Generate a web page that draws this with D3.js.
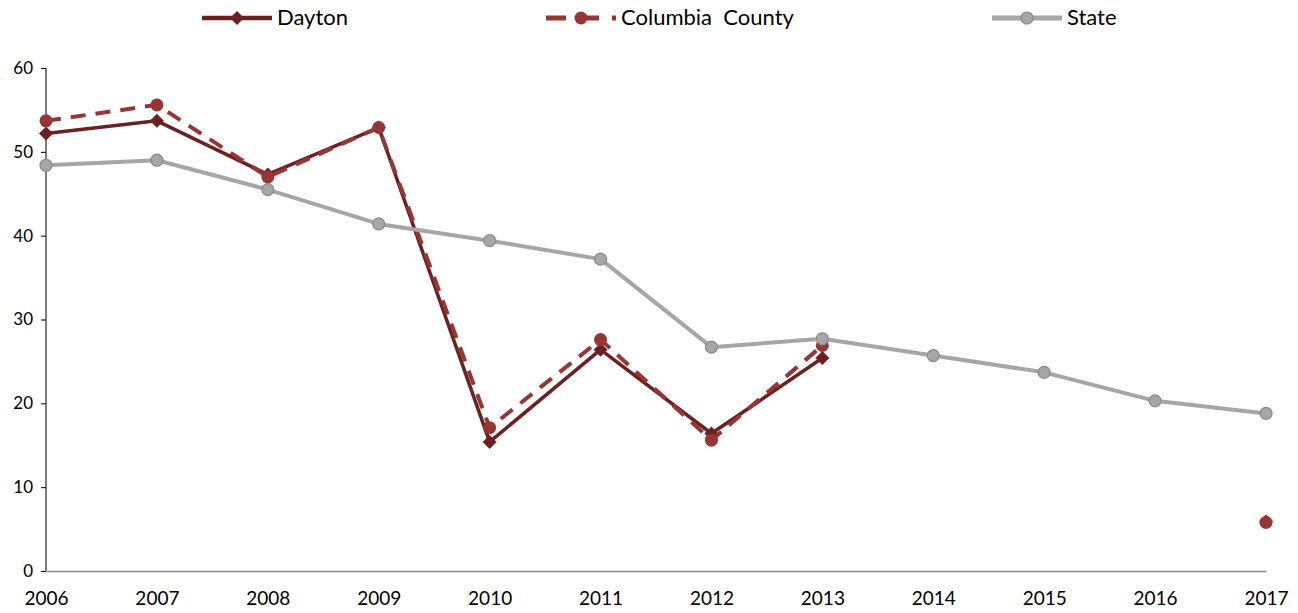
<!DOCTYPE html>
<html>
<head>
<meta charset="utf-8">
<script src="https://cdn.jsdelivr.net/npm/d3@7"></script>
<style>
  html, body { margin: 0; padding: 0; background: #fff; }
  svg { display: block; font-family: "Lato", "Open Sans", sans-serif; }
</style>
</head>
<body>
<svg id="chart" width="1298" height="613"></svg>
<script>
// Years on the x axis
const years = [2006, 2007, 2008, 2009, 2010, 2011, 2012, 2013, 2014, 2015, 2016, 2017];
// Series values (null = no data for that year)
const dayton   = [52.2, 53.7, 47.3, 52.9, 15.4, 26.4, 16.4, 25.4, null, null, null, 5.9];
const columbia = [53.7, 55.6, 47.0, 52.9, 17.1, 27.6, 15.6, 26.9, null, null, null, 5.8];
const state    = [48.4, 49.0, 45.5, 41.4, 39.4, 37.2, 26.7, 27.7, 25.7, 23.7, 20.3, 18.8];
const yTicks = [0, 10, 20, 30, 40, 50, 60];

const series = [
  { name: "Dayton", values: dayton, color: "#6B2121", width: 3.5, dash: null, marker: "diamond" },
  { name: "Columbia  County", values: columbia, color: "#963634", width: 4, dash: "15,10", marker: "circle" },
  { name: "State", values: state, color: "#A6A6A6", width: 4, dash: null, marker: "circleGray" }
];

const svg = d3.select("#chart");
const x = d3.scaleLinear().domain([2006, 2017]).range([46, 1266]);
const y = d3.scaleLinear().domain([0, 60]).range([571, 68]);

// y axis
const yAxis = svg.append("g").attr("transform", "translate(46,0)")
  .call(d3.axisLeft(y).tickValues(yTicks).tickSize(5).tickPadding(8));
yAxis.select(".domain").attr("stroke", "#000").attr("stroke-width", 1).attr("d", "M0," + y(60) + "V" + y(0));
yAxis.selectAll(".tick line").attr("stroke", "#000");
yAxis.selectAll(".tick text").attr("font-size", 17).attr("fill", "#000")
  .style("font-family", "Lato, 'Open Sans', sans-serif");

// x axis
const xAxis = svg.append("g").attr("transform", "translate(0,571)")
  .call(d3.axisBottom(x).tickValues(years).tickFormat(d3.format("d")).tickSize(0).tickPadding(21));
xAxis.select(".domain").attr("stroke", "#8C8C8C").attr("stroke-width", 1.5);
xAxis.selectAll(".tick text").attr("font-size", 19).attr("fill", "#000")
  .style("font-family", "Lato, 'Open Sans', sans-serif");

// square diamond marker, half-diagonal 7px
const diamondPath = "M0,-7L7,0L0,7L-7,0Z";

function drawMarker(g, kind, cx, cy, color) {
  if (kind === "diamond") {
    g.append("path").attr("d", diamondPath).attr("transform", `translate(${cx},${cy})`)
      .attr("fill", color);
  } else if (kind === "circle") {
    g.append("circle").attr("cx", cx).attr("cy", cy).attr("r", 6.5).attr("fill", color);
  } else {
    g.append("circle").attr("cx", cx).attr("cy", cy).attr("r", 6)
      .attr("fill", "#A6A6A6").attr("stroke", "#8A8A8A").attr("stroke-width", 1.2);
  }
}

const line = d3.line()
  .defined(d => d.v !== null)
  .x(d => x(d.year))
  .y(d => y(d.v));

series.forEach(s => {
  const pts = years.map((yr, i) => ({ year: yr, v: s.values[i] }));
  const g = svg.append("g");
  g.append("path").datum(pts)
    .attr("d", line)
    .attr("fill", "none")
    .attr("stroke", s.color)
    .attr("stroke-width", s.width)
    .attr("stroke-dasharray", s.dash)
    .attr("stroke-linejoin", "round");
  pts.filter(d => d.v !== null).forEach(d => drawMarker(g, s.marker, x(d.year), y(d.v), s.color));
});

// legend
const legendX = [202, 546, 992];
series.forEach((s, i) => {
  const g = svg.append("g").attr("transform", `translate(${legendX[i]},18)`);
  g.append("line").attr("x1", 0).attr("x2", 70).attr("y1", 0).attr("y2", 0)
    .attr("stroke", s.color).attr("stroke-width", s.width + 1)
    .attr("stroke-dasharray", s.dash ? "20,13" : null);
  drawMarker(g, s.marker, 35, 0, s.color);
  g.append("text").attr("x", 75).attr("y", 7).attr("font-size", 22).attr("fill", "#000")
    .attr("xml:space", "preserve").style("white-space", "pre").text(s.name);
});
</script>
</body>
</html>
